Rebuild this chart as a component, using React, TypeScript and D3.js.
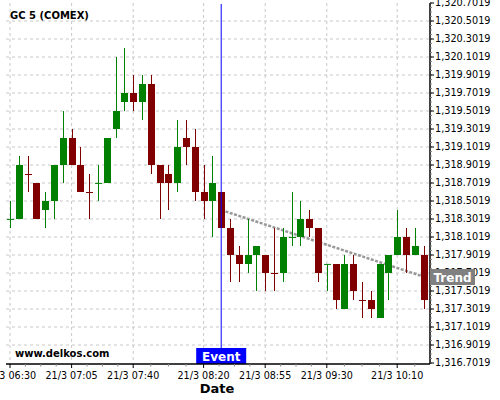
import React from "react";
import * as d3 from "d3";

const times = [
  "06:30","06:35","06:40","06:45","06:50","06:55","07:00","07:05","07:10","07:15",
  "07:20","07:25","07:30","07:35","07:40","07:45","07:50","07:55","08:00","08:05",
  "08:10","08:15","08:20","08:25","08:30","08:35","08:40","08:45","08:50","08:55",
  "09:00","09:05","09:10","09:15","09:20","09:25","09:30","09:35","09:40","09:45",
  "09:50","09:55","10:00","10:05","10:10","10:15","10:20","10:25",
];
const opens = [
  1318.3019,1318.3019,1318.8019,1318.7019,1318.4019,1318.5019,1318.9019,1319.2019,1318.9019,1318.6019,
  1318.7019,1318.7019,1319.3019,1319.6019,1319.7019,1319.6019,1319.8019,1318.9019,1318.8019,1318.7019,
  1319.2019,1319.1019,1318.6019,1318.5019,1318.6019,1318.2019,1317.9019,1317.8019,1317.9019,1317.9019,
  1317.7019,1317.7019,1318.1019,1318.1019,1318.3019,1318.2019,1317.8019,1317.8019,1317.3019,1317.8019,
  1317.4019,1317.4019,1317.2019,1317.7019,1317.9019,1318.1019,1317.9019,1317.9019,
];
const highs = [
  1318.5019,1319.0019,1319.0019,1318.7019,1318.6019,1318.9019,1319.5019,1319.3019,1319.1019,1318.8019,
  1318.9019,1319.2019,1320.1019,1320.2019,1319.9019,1319.9019,1319.9019,1318.9019,1318.9019,1319.4019,
  1319.4019,1319.3019,1318.9019,1319.0019,1318.6019,1318.3019,1318.0019,1318.3019,1318.0019,1317.9019,
  1318.2019,1318.2019,1318.6019,1318.5019,1318.4019,1318.2019,1317.8019,1317.8019,1317.9019,1317.9019,
  1317.6019,1317.5019,1317.8019,1317.9019,1318.4019,1318.2019,1318.2019,1318.0019,
];
const lows = [
  1318.2019,1318.3019,1318.6019,1318.3019,1318.2019,1318.3019,1318.7019,1318.9019,1318.6019,1318.3019,
  1318.5019,1318.7019,1319.2019,1319.5019,1319.5019,1319.4019,1318.8019,1318.3019,1318.4019,1318.6019,
  1318.9019,1318.5019,1318.3019,1318.1019,1318.2019,1317.6019,1317.6019,1317.7019,1317.5019,1317.5019,
  1317.5019,1317.6019,1318.0019,1318.0019,1318.1019,1317.6019,1317.5019,1317.3019,1317.3019,1317.4019,
  1317.2019,1317.2019,1317.2019,1317.4019,1317.9019,1317.7019,1317.9019,1317.3019,
];
const closes = [
  1318.3029,1318.9019,1318.8009,1318.3019,1318.5019,1318.9019,1319.2019,1318.9019,1318.6019,1318.6009,
  1318.7029,1319.2019,1319.5019,1319.7019,1319.6019,1319.8019,1318.9019,1318.7019,1318.7019,1319.1019,
  1319.1019,1318.6019,1318.5019,1318.7019,1318.2019,1317.9019,1317.8019,1317.9019,1318.0019,1317.7019,
  1317.7009,1318.1019,1318.1029,1318.3019,1318.2019,1317.7019,1317.8029,1317.4019,1317.8019,1317.5019,
  1317.4009,1317.3019,1317.8019,1317.9019,1318.1019,1317.9019,1318.0019,1317.4019,
];

const xTickLabels = ["06:30", "07:05", "07:40", "08:20", "08:55", "09:30", "10:10"];
const datePrefix = "21/3 ";
const yMin = 1316.7019;
const yMax = 1320.7019;
const yStep = 0.2;

const eventTime = "08:30";
const trendTimes = ["08:30", "10:25"];
const trendPrices = [1318.4019, 1317.6619];

const title = "GC 5 (COMEX)";
const watermark = "www.delkos.com";

const UP = "#008000";
const DOWN = "#800000";
const FONT = "DejaVu Sans, sans-serif";

const toDate = (t: string) => {
  const [h, m] = t.split(":").map(Number);
  return new Date(2019, 2, 21, h, m);
};

export default function App() {
  const W = 500, H = 400;
  const plotL = 6, plotR = 430, plotT = 3, plotB = 364;

  const x = d3
    .scaleTime()
    .domain([toDate(times[0]), toDate(times[times.length - 1])])
    .range([10, 423.6]);
  const y = d3.scaleLinear().domain([yMin, yMax]).range([363, 3]);

  const nY = Math.round((yMax - yMin) / yStep);
  const yTicks = d3.range(nY + 1).map((i) => yMin + i * yStep);
  const yMinor = d3.range(nY * 4 + 1).map((i) => yMin + (i * yStep) / 4);
  const fmt = d3.format(",.4f");

  const xTicks = xTickLabels.map(toDate);
  const xMinor: number[] = [];
  for (let i = 0; i < xTicks.length; i++) {
    const a = x(xTicks[i]);
    const b = i < xTicks.length - 1 ? x(xTicks[i + 1]) : a + (a - x(xTicks[i - 1]));
    for (let k = 1; k < 4; k++) {
      const v = a + ((b - a) * k) / 4;
      if (v < plotR) xMinor.push(v);
    }
  }

  const bw = 7;
  const ex = x(toDate(eventTime));

  return (
    <svg
      width={W}
      height={H}
      style={{ position: "absolute", left: 0, top: 0, background: "#fff" }}
      fontFamily={FONT}
    >
      <rect x={0} y={0} width={W} height={H} fill="#fff" />
      {/* grid */}
      {yTicks.slice(1, -1).map((v, i) => (
        <line key={"gy" + i} x1={plotL} x2={plotR} y1={y(v)} y2={y(v)} stroke="#c8c8c8" strokeDasharray="3,3" />
      ))}
      {xTicks.map((d, i) => (
        <line key={"gx" + i} x1={x(d)} x2={x(d)} y1={plotT} y2={plotB} stroke="#c8c8c8" strokeDasharray="3,3" />
      ))}

      {/* title */}
      <text x={10} y={19} fontSize={10} fontWeight="bold" fill="#000">{title}</text>

      {/* trend line */}
      <line
        x1={x(toDate(trendTimes[0]))}
        y1={y(trendPrices[0])}
        x2={x(toDate(trendTimes[1]))}
        y2={y(trendPrices[1])}
        stroke="#999"
        strokeWidth={2.5}
        strokeDasharray="3,1.5"
      />

      {/* candles */}
      {times.map((t, i) => {
        const cx = Math.round(x(toDate(t))) + 0.5;
        const up = closes[i] >= opens[i];
        const col = up ? UP : DOWN;
        const top = y(Math.max(opens[i], closes[i]));
        const bot = y(Math.min(opens[i], closes[i]));
        return (
          <g key={"c" + i}>
            <line x1={cx} x2={cx} y1={y(highs[i])} y2={y(lows[i])} stroke={col} strokeWidth={1} />
            <rect x={cx - bw / 2} y={top} width={bw} height={Math.max(1, bot - top)} fill={col} />
          </g>
        );
      })}

      {/* event */}
      <line x1={ex} x2={ex} y1={4} y2={plotB} stroke="#0000ff" strokeWidth={1} />
      <rect x={ex - 25} y={348} width={50} height={16} fill="#0000ff" />
      <text x={ex} y={361} textAnchor="middle" fontSize={12} fontWeight="bold" fill="#fff">Event</text>

      {/* watermark */}
      <text x={15} y={357} fontSize={10} fontWeight="bold" fill="#000">{watermark}</text>

      {/* axes */}
      <line x1={plotL} x2={plotR} y1={plotB} y2={plotB} stroke="#000" strokeWidth={1.5} />
      <line x1={plotR} x2={plotR} y1={plotT} y2={plotB} stroke="#000" strokeWidth={1.5} />
      {yMinor.map((v, i) => (
        <line key={"ym" + i} x1={plotR} x2={plotR + 2} y1={y(v)} y2={y(v)} stroke="#888" />
      ))}
      {yTicks.map((v, i) => (
        <g key={"yt" + i}>
          <line x1={plotR} x2={plotR + 4} y1={y(v)} y2={y(v)} stroke="#000" />
          <text x={435} y={y(v)} dy="0.35em" fontSize={9.7} fill="#000">{fmt(v)}</text>
        </g>
      ))}
      {xMinor.map((v, i) => (
        <line key={"xm" + i} x1={v} x2={v} y1={plotB} y2={plotB + 2.5} stroke="#888" />
      ))}
      {xTicks.map((d, i) => (
        <g key={"xt" + i}>
          <line x1={x(d)} x2={x(d)} y1={plotB} y2={plotB + 4} stroke="#000" />
          <text x={x(d)} y={378.5} textAnchor="middle" fontSize={9.6} fill="#000">
            {datePrefix + xTickLabels[i]}
          </text>
        </g>
      ))}

      {/* trend label */}
      <rect x={430} y={269} width={45} height={16} fill="#808080" />
      <text x={452.5} y={282} textAnchor="middle" fontSize={12} fontWeight="bold" fill="#fff">Trend</text>

      <text x={217} y={393} textAnchor="middle" fontSize={13} fontWeight="bold" fill="#000">Date</text>
    </svg>
  );
}
